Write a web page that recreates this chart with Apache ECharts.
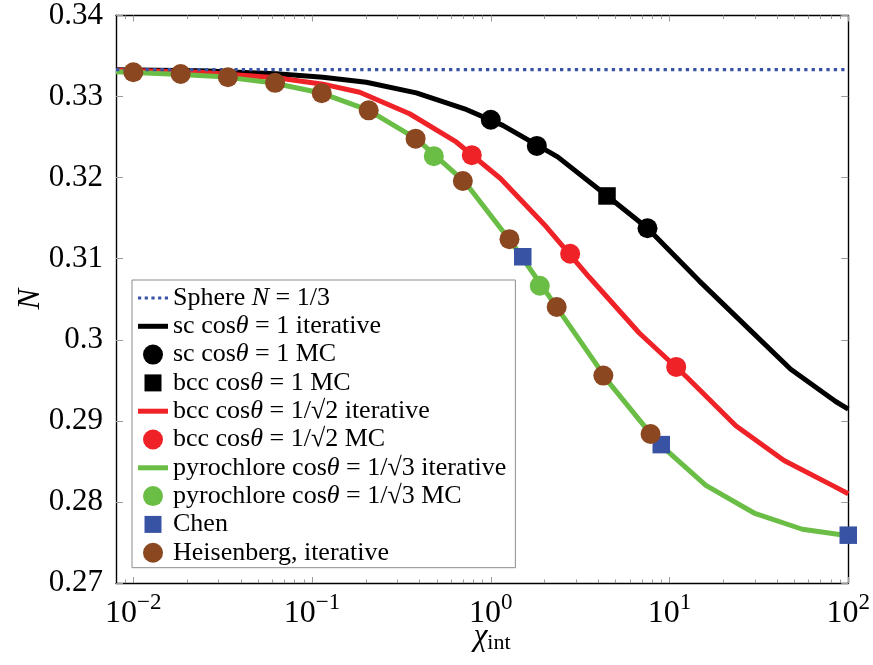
<!DOCTYPE html>
<html>
<head>
<meta charset="utf-8">
<script src="https://cdn.jsdelivr.net/npm/echarts@6/dist/echarts.min.js"></script>
<style>
  html, body { margin: 0; padding: 0; background: #ffffff; }
  #chart { width: 873px; height: 665px; }
</style>
</head>
<body>
<div id="chart"></div>
<script>
// Demagnetising factor N against interaction strength chi_int
const FONT = '"Liberation Serif", "Times New Roman", serif';

const xMajorTicks = [0.01, 0.1, 1, 10, 100];
const xMinorTicks = [0.009, 0.02, 0.03, 0.04, 0.05, 0.06, 0.07, 0.08, 0.09,
  0.2, 0.3, 0.4, 0.5, 0.6, 0.7, 0.8, 0.9,
  2, 3, 4, 5, 6, 7, 8, 9,
  20, 30, 40, 50, 60, 70, 80, 90];

// Sphere reference value N = 1/3
const sphereX = [0.008, 100];
const sphereY = [1 / 3, 1 / 3];

// sc, cos(theta) = 1, iterative
const scIterX = [0.008, 0.0236, 0.0632, 0.115, 0.201, 0.383, 0.713, 1.167, 2.367, 4.413, 7.537, 14.65, 27.88, 47.66, 85.04, 100];
const scIterY = [0.33332, 0.33318, 0.33282, 0.33239, 0.33177, 0.33046, 0.32849, 0.32645, 0.32256, 0.31786, 0.31376, 0.30727, 0.30132, 0.29637, 0.29239, 0.29146];

// sc, cos(theta) = 1, Monte Carlo
const scMcX = [1.0, 1.81, 7.53];
const scMcY = [0.32714, 0.32391, 0.31376];

// bcc, cos(theta) = 1, Monte Carlo
const bccOneMcX = [4.47];
const bccOneMcY = [0.31774];

// bcc, cos(theta) = 1/sqrt(2), iterative
const bccIterX = [0.008, 0.0236, 0.0632, 0.115, 0.1847, 0.3514, 0.6407, 1.133, 2.039, 3.559, 6.770, 12.56, 23.49, 43.73, 81.40, 100];
const bccIterY = [0.33325, 0.33300, 0.33232, 0.33153, 0.33054, 0.32788, 0.32440, 0.31990, 0.31397, 0.30771, 0.30084, 0.29535, 0.28940, 0.28511, 0.28204, 0.28102];

// bcc, cos(theta) = 1/sqrt(2), Monte Carlo
const bccMcX = [0.783, 2.78, 10.9];
const bccMcY = [0.32277, 0.31061, 0.29665];

// pyrochlore, cos(theta) = 1/sqrt(3), iterative
const pyroIterX = [0.008, 0.01718, 0.03199, 0.05953, 0.1108, 0.2063, 0.3841, 0.7147, 1.330, 2.477, 4.610, 8.582, 15.97, 29.73, 55.34, 100];
const pyroIterY = [0.33306, 0.33275, 0.33243, 0.33171, 0.33048, 0.32833, 0.32477, 0.31949, 0.31179, 0.30323, 0.29465, 0.28734, 0.28204, 0.27863, 0.27663, 0.27583];

// pyrochlore, cos(theta) = 1/sqrt(3), Monte Carlo
const pyroMcX = [0.480, 1.88];
const pyroMcY = [0.32265, 0.30666];

// Chen
const chenX = [1.51, 8.99, 100];
const chenY = [0.31024, 0.28707, 0.2759];

// Heisenberg, iterative
const heisX = [0.01, 0.0184, 0.0338, 0.0621, 0.1133, 0.2074, 0.3796, 0.6977, 1.272, 2.337, 4.263, 7.833];
const heisY = [0.33300, 0.33279, 0.33239, 0.33169, 0.33042, 0.32830, 0.32481, 0.31959, 0.31241, 0.30404, 0.29558, 0.28838];

const zip = (xs, ys) => xs.map((x, i) => [x, ys[i]]);

const BLACK = '#000000';
const RED = '#ee2227';
const GREEN = '#6abd45';
const BLUE = '#3953a4';
const BROWN = '#8b4720';
const TICK = '#9a9a9a';

// legend glyphs
const SQUARE = 'path://M0 0M20 20M1.5 1.5H18.5V18.5H1.5Z';
const BAR = 'path://M0 0H30V5H0Z';
const DOTS = 'path://M0 0H3.2V3H0ZM6.7 0H9.9V3H6.7ZM13.4 0H16.6V3H13.4ZM20.1 0H23.3V3H20.1ZM26.8 0H30V3H26.8Z';

const names = {
  sphere: 'Sphere N = 1/3',
  scIter: 'sc cosθ = 1 iterative',
  scMc: 'sc cosθ = 1 MC',
  bccOne: 'bcc cosθ = 1 MC',
  bccIter: 'bcc cosθ = 1/√2 iterative',
  bccMc: 'bcc cosθ = 1/√2 MC',
  pyroIter: 'pyrochlore cosθ = 1/√3 iterative',
  pyroMc: 'pyrochlore cosθ = 1/√3 MC',
  chen: 'Chen',
  heis: 'Heisenberg, iterative'
};

const legendRich = {};
legendRich[names.sphere] = 'Sphere {i|N} = 1/3';
legendRich[names.scIter] = 'sc cos{i|θ} = 1 iterative';
legendRich[names.scMc] = 'sc cos{i|θ} = 1 MC';
legendRich[names.bccOne] = 'bcc cos{i|θ} = 1 MC';
legendRich[names.bccIter] = 'bcc cos{i|θ} = 1/√2 iterative';
legendRich[names.bccMc] = 'bcc cos{i|θ} = 1/√2 MC';
legendRich[names.pyroIter] = 'pyrochlore cos{i|θ} = 1/√3 iterative';
legendRich[names.pyroMc] = 'pyrochlore cos{i|θ} = 1/√3 MC';
legendRich[names.chen] = 'Chen';
legendRich[names.heis] = 'Heisenberg, iterative';

const lineSeries = (name, xs, ys, color, extra) => Object.assign({
  name, type: 'line', data: zip(xs, ys), symbol: 'none', showSymbol: false,
  lineStyle: { color, width: 5 }, itemStyle: { color }, smooth: false,
  animation: false, clip: true, z: 2
}, extra || {});

const markSeries = (name, xs, ys, color, symbol, size) => ({
  name, type: 'scatter', data: zip(xs, ys), symbol, symbolSize: size,
  symbolKeepAspect: true, itemStyle: { color, opacity: 1 }, animation: false, z: 4
});

const chart = echarts.init(document.getElementById('chart'), null, { renderer: 'canvas' });

const xBase = {
  type: 'log', min: 0.008, max: 100, logBase: 10,
  splitLine: { show: false }, minorTick: { show: false }
};

chart.setOption({
  backgroundColor: '#ffffff',
  animation: false,
  grid: { left: 116, right: 24, top: 13, bottom: 82, containLabel: false },
  xAxis: [
    Object.assign({}, xBase, {
      position: 'bottom',
      axisLine: { show: true, onZero: false, lineStyle: { color: '#000', width: 1.4 } },
      axisTick: { show: true, inside: true, length: 6, customValues: xMajorTicks, lineStyle: { color: TICK, width: 1 } },
      axisLabel: {
        show: true, customValues: xMajorTicks, margin: 7, color: '#000',
        formatter: v => {
          const e = Math.round(Math.log10(v));
          return '{b|10}{s|' + (e < 0 ? '−' + (-e) : String(e)) + '}';
        },
        rich: {
          b: { fontFamily: FONT, fontSize: 32, color: '#000', padding: [8, 0, 0, 0] },
          s: { fontFamily: FONT, fontSize: 23, color: '#000', padding: [0, 0, 14, 0] }
        }
      },
      name: '{c|χ}{s|int}',
      nameLocation: 'middle', nameGap: 37, nameMoveOverlap: false,
      nameTextStyle: {
        padding: [0, 0, 0, 20],
        rich: {
          c: { fontFamily: FONT, fontSize: 31, fontStyle: 'italic', color: '#000' },
          s: { fontFamily: FONT, fontSize: 22, color: '#000', padding: [12, 0, 0, 0] }
        }
      }
    }),
    Object.assign({}, xBase, {
      position: 'bottom',
      axisLine: { show: false },
      axisTick: { show: true, inside: true, length: 3.5, customValues: xMinorTicks, lineStyle: { color: TICK, width: 1 } },
      axisLabel: { show: false }
    }),
    Object.assign({}, xBase, {
      position: 'top',
      axisLine: { show: true, onZero: false, lineStyle: { color: '#000', width: 1.4 } },
      axisTick: { show: true, inside: true, length: 6, customValues: xMajorTicks, lineStyle: { color: TICK, width: 1 } },
      axisLabel: { show: false }
    }),
    Object.assign({}, xBase, {
      position: 'top',
      axisLine: { show: false },
      axisTick: { show: true, inside: true, length: 3.5, customValues: xMinorTicks, lineStyle: { color: TICK, width: 1 } },
      axisLabel: { show: false }
    })
  ],
  yAxis: [
    {
      type: 'value', min: 0.27, max: 0.34, interval: 0.01, position: 'left',
      axisLine: { show: true, onZero: false, lineStyle: { color: '#000', width: 1.4 } },
      axisTick: { show: true, inside: true, length: 7, lineStyle: { color: TICK, width: 1 } },
      axisLabel: { show: true, margin: 13, color: '#000', fontFamily: FONT, fontSize: 31 },
      splitLine: { show: false },
      name: 'N', nameLocation: 'middle', nameGap: 70, nameRotate: 90, nameMoveOverlap: false,
      nameTextStyle: { fontFamily: FONT, fontSize: 31, fontStyle: 'italic', color: '#000' }
    },
    {
      type: 'value', min: 0.27, max: 0.34, interval: 0.01, position: 'right',
      axisLine: { show: true, onZero: false, lineStyle: { color: '#000', width: 1.4 } },
      axisTick: { show: true, inside: true, length: 7, lineStyle: { color: TICK, width: 1 } },
      axisLabel: { show: false },
      splitLine: { show: false }
    }
  ],
  legend: {
    orient: 'vertical', left: 132, top: 280,
    padding: [5, 9, 2, 6],
    backgroundColor: '#ffffff', borderColor: '#8c8c8c', borderWidth: 1, borderRadius: 0,
    itemWidth: 30, itemHeight: 20, itemGap: 2.3,
    selectedMode: false,
    symbolKeepAspect: true,
    textStyle: {
      fontFamily: FONT, fontSize: 26, color: '#000',
      rich: { i: { fontFamily: FONT, fontSize: 26, fontStyle: 'italic', color: '#000' } }
    },
    formatter: n => legendRich[n] || n,
    data: [
      { name: names.sphere, icon: DOTS },
      { name: names.scIter, icon: BAR },
      { name: names.scMc, icon: 'circle' },
      { name: names.bccOne, icon: SQUARE },
      { name: names.bccIter, icon: BAR },
      { name: names.bccMc, icon: 'circle' },
      { name: names.pyroIter, icon: BAR },
      { name: names.pyroMc, icon: 'circle' },
      { name: names.chen, icon: SQUARE },
      { name: names.heis, icon: 'circle' }
    ]
  },
  series: [
    lineSeries(names.sphere, sphereX, sphereY, BLUE, { lineStyle: { color: BLUE, width: 3.2, type: [3.3, 4.1] }, z: 3 }),
    lineSeries(names.scIter, scIterX, scIterY, BLACK),
    markSeries(names.scMc, scMcX, scMcY, BLACK, 'circle', 20),
    markSeries(names.bccOne, bccOneMcX, bccOneMcY, BLACK, 'rect', 17.5),
    lineSeries(names.bccIter, bccIterX, bccIterY, RED),
    markSeries(names.bccMc, bccMcX, bccMcY, RED, 'circle', 20),
    lineSeries(names.pyroIter, pyroIterX, pyroIterY, GREEN),
    markSeries(names.pyroMc, pyroMcX, pyroMcY, GREEN, 'circle', 20),
    markSeries(names.chen, chenX, chenY, BLUE, 'rect', 17.5),
    markSeries(names.heis, heisX, heisY, BROWN, 'circle', 20)
  ]
});
</script>
</body>
</html>
